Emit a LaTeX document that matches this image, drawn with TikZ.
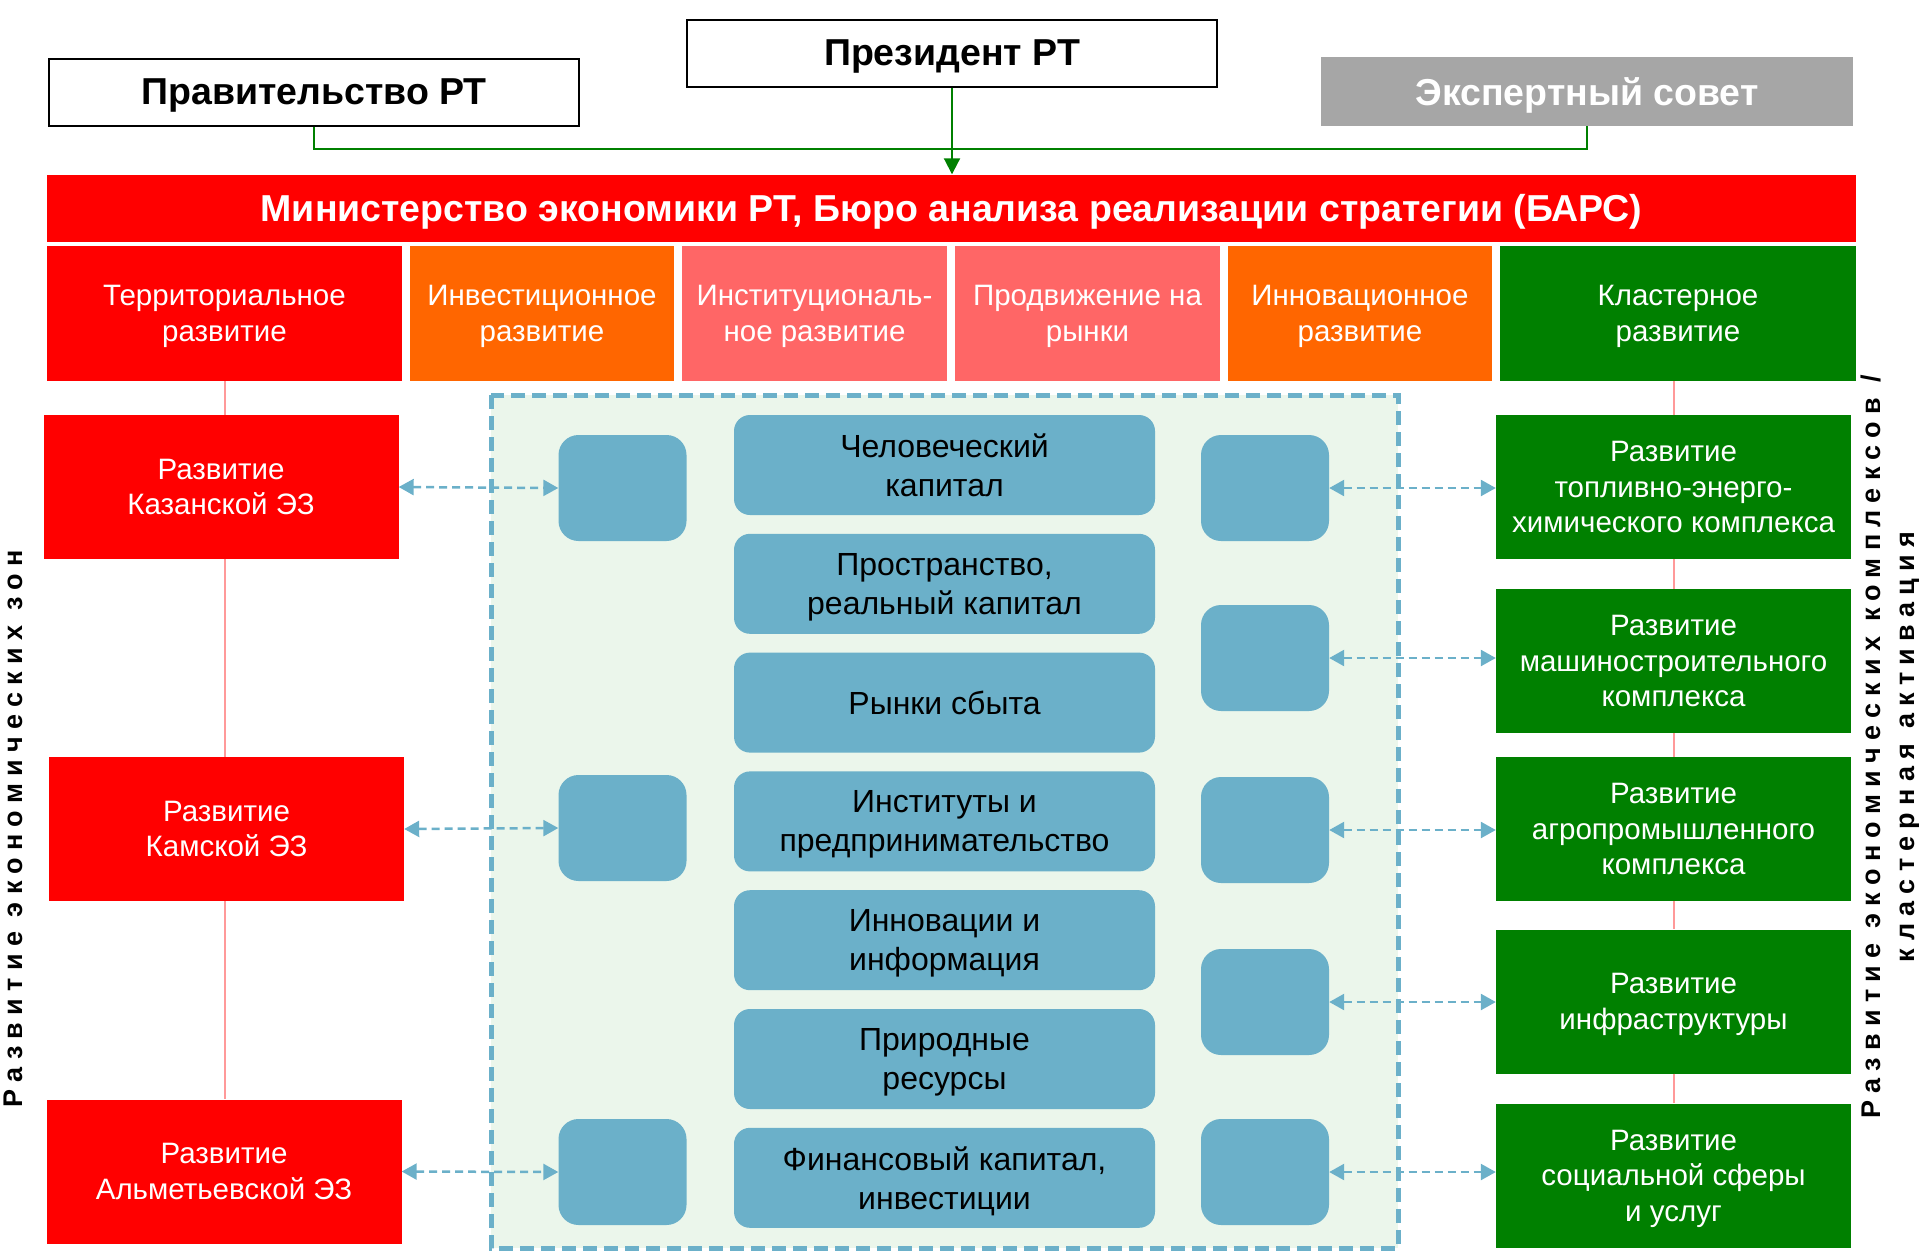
\documentclass[tikz,border=0pt]{standalone}
\usepackage{fontspec}
\setmainfont{Liberation Sans}
\newfontfamily\spacedfont[LetterSpace=27]{Liberation Sans}
\definecolor{barsred}{HTML}{FF0000}
\definecolor{barsorange}{HTML}{FF6600}
\definecolor{barspink}{HTML}{FF6666}
\definecolor{barsgreen}{HTML}{008000}
\definecolor{barsgray}{HTML}{A6A6A6}
\definecolor{factorblue}{HTML}{6BB0C9}
\definecolor{zonefill}{HTML}{EBF6EB}
\definecolor{linkpink}{HTML}{FF9999}
\usetikzlibrary{arrows.meta, positioning}

\tikzset{
  topbox/.style={draw=black, line width=2pt, fill=white, minimum width=530pt,
    minimum height=67pt, inner sep=0pt, text depth=0pt,
    font=\fontsize{37.5}{45}\selectfont\bfseries},
  colbox/.style={fill=#1, text=white, minimum height=135pt, inner sep=0pt, text depth=0pt,
    align=center, font=\fontsize{29.5}{35.5}\selectfont},
  devbox/.style={fill=#1, text=white, minimum width=355pt, minimum height=144pt,
    inner sep=0pt, text depth=0pt, align=center, font=\fontsize{29.5}{35.5}\selectfont},
  factor/.style={fill=factorblue, rounded corners=16pt, minimum width=421pt,
    minimum height=100pt, inner sep=0pt, text depth=0pt, align=center,
    font=\fontsize{32}{39}\selectfont},
  sbox/.style={fill=factorblue, rounded corners=20pt, minimum width=128pt, minimum height=106pt},
  conn/.style={barsgreen, line width=2pt},
  dlink/.style={factorblue, line width=2.5pt, dash pattern=on 8pt off 5pt,
    <->, >={Triangle[length=15pt,width=16pt]}},
  vline/.style={linkpink, line width=2pt},
  sidetext/.style={rotate=90, align=center, inner sep=0pt,
    font=\fontsize{27}{34}\spacedfont\bfseries}
}

\begin{document}
\begin{tikzpicture}[x=1pt, y=-1pt]
  \useasboundingbox (0,0) rectangle (1919,1253);
  % руководство
  \node[topbox] (gov) at (314,92) {Правительство РТ};
  \node[topbox] (pres) at (952,53) {Президент РТ};
  \node[topbox, draw=barsgray, fill=barsgray, text=white] (expert) at (1587,91.5) {Экспертный совет};
  \node[fill=barsred, text=white, minimum width=1809pt, minimum height=67pt, inner sep=0pt,
    text depth=0pt, font=\fontsize{37.5}{45}\selectfont\bfseries] (mins) at (951.5,208)
    {Министерство экономики РТ, Бюро анализа реализации стратегии (БАРС)};
  \coordinate (jn) at (951,149);
  \draw[conn] (gov) |- (jn);
  \draw[conn] (expert) |- (jn);
  \draw[conn, -{Triangle[length=16pt,width=16pt]}] (pres.south) -- (pres.south |- mins.north);

  % направления
  \foreach \x/\w/\c/\t [count=\i] in {
      224.5/355/barsred/{Территориальное\\развитие},
      542/264/barsorange/{Инвестиционное\\развитие},
      814.5/265/barspink/{Институциональ-\\ное развитие},
      1087.5/265/barspink/{Продвижение на\\рынки},
      1360/264/barsorange/{Инновационное\\развитие},
      1678/356/barsgreen/{Кластерное\\развитие}}
    \node[colbox=\c, minimum width=\w pt] (t\i) at (\x,313.5) {\t};

  % факторы
  \fill[zonefill] (491,395) rectangle (1398,1248);
  \draw[factorblue, line width=5pt, dash pattern=on 14pt off 7pt] (491,395) rectangle (1398,1248);
  \foreach \t [count=\i] in {{Человеческий\\капитал}, {Пространство,\\реальный капитал},
      {Рынки сбыта}, {Институты и\\предпринимательство}, {Инновации и\\информация},
      {Природные\\ресурсы}, {Финансовый капитал,\\инвестиции}}
    \node[factor] (c\i) at (944.5,{465+118.8*(\i-1)}) {\t};
  \foreach \y [count=\i] in {488,828,1172}
    \node[sbox] (sl\i) at (622.5,\y) {};
  \foreach \y [count=\i] in {488,658,830,1002,1172}
    \node[sbox] (sr\i) at (1265,\y) {};

  % экономические зоны
  \node[devbox=barsred] (kazan) at (221,487) {Развитие\\Казанской ЭЗ};
  \node[devbox=barsred] (kama) at (226.5,829) {Развитие\\Камской ЭЗ};
  \node[devbox=barsred] (alm) at (224,1171.5) {Развитие\\Альметьевской ЭЗ};
  \draw[vline] (t1.south) -- (t1.south |- kazan.north);
  \draw[vline] (t1.south |- kazan.south) -- (t1.south |- kama.north);
  \draw[vline] (t1.south |- kama.south) -- (t1.south |- alm.north);
  \foreach \z [count=\i] in {kazan,kama,alm}
    \draw[dlink] (\z.east) -- (sl\i.west);

  % комплексы
  \foreach \y/\t [count=\i] in {487/{Развитие\\топливно-энерго-\\химического комплекса},
      661/{Развитие\\машиностроительного\\комплекса},
      829/{Развитие\\агропромышленного\\комплекса},
      1001.5/{Развитие\\инфраструктуры},
      1175.5/{Развитие\\социальной сферы\\и услуг}}
    \node[devbox=barsgreen] (g\i) at (1673.5,\y) {\t};
  \draw[vline] (g1.north |- t6.south) -- (g1.north);
  \foreach \i [evaluate=\i as \j using int(\i+1)] in {1,...,4}
    \draw[vline] (g\i.south) -- (g\j.north);
  \foreach \i in {1,...,5}
    \draw[dlink] (sr\i.east) -- (g\i.west |- sr\i.east);

  % подписи по бокам
  \node[sidetext] (zones) at (13,829) {Развитие экономических зон};
  \node[sidetext] (clusters) at (1890,747) {Развитие экономических комплексов /\\кластерная активация};
\end{tikzpicture}
\end{document}
